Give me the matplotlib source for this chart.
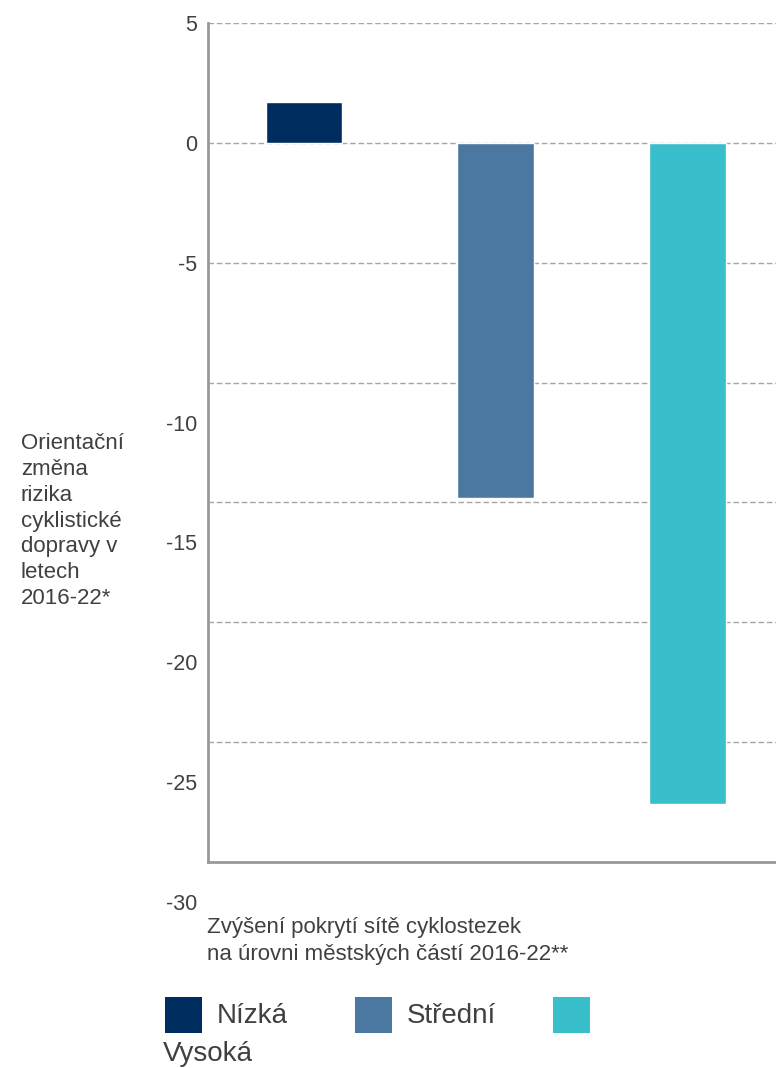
import matplotlib.pyplot as plt
import matplotlib.transforms as mtransforms
from matplotlib.patches import Rectangle

plt.rcParams['font.family'] = ['Liberation Sans', 'DejaVu Sans']

# Data
categories = ['Nízká', 'Střední', 'Vysoká']
values = [1.7, -14.8, -27.6]
colors = ['#002d5f', '#4b78a0', '#38bfcb']
yticks = [5, 0, -5, -10, -15, -20, -25, -30]

text_color = '#404040'

fig = plt.figure(figsize=(7.76, 10.68), dpi=100)
ax = fig.add_axes([208 / 776, 1 - 862 / 1068, 568 / 776, 839 / 1068])

x = range(len(categories))
ax.bar(x, values, width=0.4, color=colors, edgecolor='white', linewidth=1, zorder=3)

ax.set_xlim(-0.5, 2.46)
ax.set_ylim(-30, 5)
ax.set_xticks([])
ax.set_yticks(yticks)
ax.set_yticklabels([str(v) for v in yticks])
ax.tick_params(axis='y', length=0, pad=8, labelsize=15.5, labelcolor=text_color)

# lower tick labels sit a bit below their grid lines
shift = mtransforms.ScaledTranslation(0, -40 / 100, fig.dpi_scale_trans)
for lab, v in zip(ax.get_yticklabels(), yticks):
    if v <= -10:
        lab.set_transform(lab.get_transform() + shift)

ax.grid(axis='y', color='#a6a6a6', linestyle=(0, (4, 2)), linewidth=1, zorder=0)
for side in ['top', 'right']:
    ax.spines[side].set_visible(False)
for side in ['left', 'bottom']:
    ax.spines[side].set_color('#999999')
    ax.spines[side].set_linewidth(2)

# y-axis title
fig.text(21 / 776, 1 - 521 / 1068,
         'Orientační\nzměna\nrizika\ncyklistické\ndopravy v\nletech\n2016-22*',
         ha='left', va='center', fontsize=16, color=text_color, linespacing=1.3)

# x-axis title
fig.text(207 / 776, 1 - 941 / 1068,
         'Zvýšení pokrytí sítě cyklostezek\nna úrovni městských částí 2016-22**',
         ha='left', va='center', fontsize=16, color=text_color, linespacing=1.4)

# legend
legend_items = [(165, categories[0]), (355, categories[1]), (553, None)]
for (px, name), c in zip(legend_items, colors):
    fig.patches.append(Rectangle((px / 776, 1 - 1033 / 1068), 37 / 776, 36 / 1068,
                                 transform=fig.transFigure, facecolor=c,
                                 edgecolor='none'))
    if name:
        fig.text((px + 52) / 776, 1 - 1016 / 1068, name, ha='left', va='center',
                 fontsize=20, color=text_color)
fig.text(163 / 776, 1 - 1054 / 1068, categories[2], ha='left', va='center',
         fontsize=20, color=text_color)

fig.savefig('out.png', dpi=100)
